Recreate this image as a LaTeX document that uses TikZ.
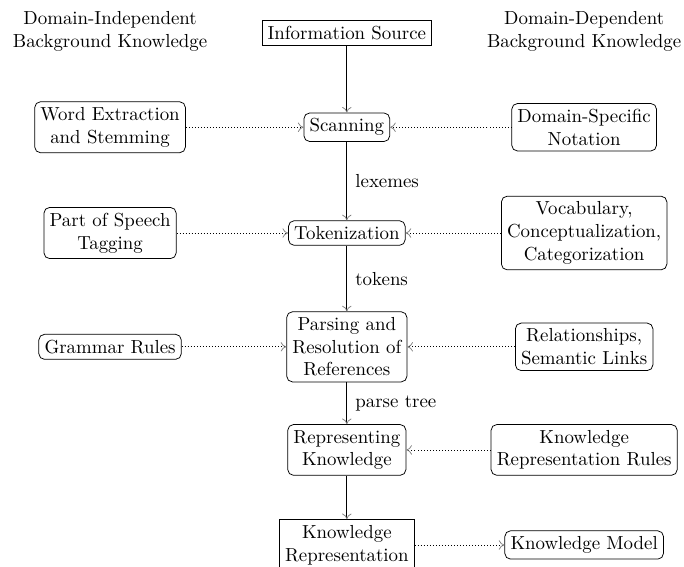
\documentclass[tikz,border=0pt]{standalone}
\usepackage{amsmath}
\usepackage{amssymb}
\usetikzlibrary{shapes, arrows.meta, positioning, calc}

\tikzset{
  procbox/.style={draw, rounded corners=3pt, align=center, inner sep=3pt},
  plainbox/.style={draw, align=center, inner sep=3pt},
  flow/.style={-{To[gray, length=3pt, width=5pt]}, line width=0.4pt},
  feed/.style={-{To[gray, length=3pt, width=5pt]}, line width=0.4pt, dash pattern=on 0.4pt off 1.2pt}
}

\begin{document}
\begin{tikzpicture}
            % cadre de la page
            \useasboundingbox (0,0) rectangle (12.74,-10.56);
            % titres des deux colonnes
            \node[align=center] (indep) at (2.05,-0.58) {Domain-Independent\\Background Knowledge};
            \node[align=center] (dep) at (10.88,-0.58) {Domain-Dependent\\Background Knowledge};
            % colonne centrale
            \node[plainbox] (source) at (6.46,-0.61) {Information Source};
            \node[procbox] (scan) at (6.46,-2.37) {Scanning};
            \node[procbox] (token) at (6.46,-4.34) {Tokenization};
            \node[procbox] (parse) at (6.46,-6.46) {Parsing and\\Resolution of\\References};
            \node[procbox] (repr) at (6.46,-8.38) {Representing\\Knowledge};
            \node[plainbox] (krep) at (6.46,-10.15) {Knowledge\\Representation};
            % colonne de gauche
            \node[procbox] (stem) at (2.05,-2.37) {Word Extraction\\and Stemming};
            \node[procbox] (pos) at (2.05,-4.34) {Part of Speech\\Tagging};
            \node[procbox] (gram) at (2.05,-6.46) {Grammar Rules};
            % colonne de droite
            \node[procbox] (notation) at (10.88,-2.37) {Domain-Specific\\Notation};
            \node[procbox] (vocab) at (10.88,-4.34) {Vocabulary,\\Conceptualization,\\Categorization};
            \node[procbox] (rel) at (10.88,-6.46) {Relationships,\\Semantic Links};
            \node[procbox] (krules) at (10.88,-8.38) {Knowledge\\Representation Rules};
            \node[procbox] (kmodel) at (10.88,-10.15) {Knowledge Model};
            % flux principal
            \draw[flow] (source) -- (scan);
            \draw[flow] (scan) -- node[right=1pt] {lexemes} (token);
            \draw[flow] (token) -- node[right=1pt] {tokens} (parse);
            \draw[flow] (parse) -- node[right=1pt] {parse tree} (repr);
            \draw[flow] (repr) -- (krep);
            % connaissances en pointillés
            \draw[feed] (stem) -- (scan);
            \draw[feed] (notation) -- (scan);
            \draw[feed] (pos) -- (token);
            \draw[feed] (vocab) -- (token);
            \draw[feed] (gram) -- (parse);
            \draw[feed] (rel) -- (parse);
            \draw[feed] (krules) -- (repr);
            \draw[feed] (krep) -- (kmodel);
        \end{tikzpicture}
\end{document}
